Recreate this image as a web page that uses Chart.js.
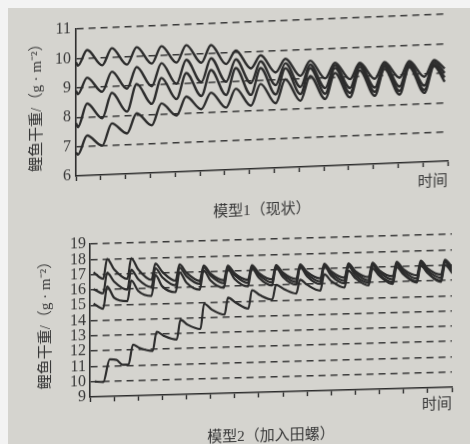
<!DOCTYPE html>
<html>
<head>
<meta charset="utf-8">
<script src="https://cdn.jsdelivr.net/npm/chart.js@4.4.0/dist/chart.umd.min.js"></script>
<style>
html, body { margin: 0; padding: 0; width: 470px; height: 444px; overflow: hidden; background: #f3f3f3; }
#paper { position: absolute; left: 8px; top: 8px; width: 462px; height: 436px; background: #d5d4cf; }
canvas { position: absolute; left: 0; }
#model1 { top: 0; transform: skewY(-2.3deg); transform-origin: 76px 176px; }
#model2 { top: 222px; transform: skewY(-1.55deg); transform-origin: 90px 175px; }
</style>
</head>
<body>
<div id="paper"></div>
<canvas id="model1" width="470" height="232"></canvas>
<canvas id="model2" width="470" height="232"></canvas>
<script>
// model 1 (现状): start, then trough / peak per cycle, then end
const m1X = [0, 0.08, 0.45, 1.06, 1.45, 2.06, 2.45, 3.06, 3.45, 4.06, 4.45, 5.06, 5.45, 6.06, 6.45, 7.06, 7.45,
  8.06, 8.45, 9.06, 9.45, 10.06, 10.45, 11.06, 11.45, 12.06, 12.45, 13.06, 13.45, 14.06, 14.45, 14.88];
const m1A = [9.87, 9.75, 10.27, 9.73, 10.3, 9.72, 10.3, 9.72, 10.3, 9.72, 10.3, 9.68, 10.27, 9.6, 10.05, 9.42, 9.85,
  9.25, 9.7, 9.1, 9.6, 8.98, 9.5, 8.92, 9.46, 8.9, 9.45, 8.9, 9.45, 8.9, 9.45, 9.15];
const m1B = [8.9, 8.78, 9.33, 8.83, 9.5, 8.9, 9.62, 8.95, 9.72, 9.0, 9.8, 9.02, 9.82, 9.0, 9.75, 8.92, 9.65,
  8.82, 9.55, 8.72, 9.47, 8.65, 9.42, 8.62, 9.4, 8.6, 9.38, 8.6, 9.38, 8.6, 9.38, 9.0];
const m1C = [7.8, 7.66, 8.45, 7.93, 8.78, 8.12, 9.05, 8.35, 9.22, 8.48, 9.35, 8.55, 9.42, 8.55, 9.45, 8.52, 9.42,
  8.5, 9.38, 8.48, 9.35, 8.46, 9.32, 8.45, 9.32, 8.45, 9.3, 8.45, 9.3, 8.45, 9.3, 8.85];
const m1D = [6.8, 6.72, 7.36, 7.0, 7.74, 7.38, 8.05, 7.62, 8.35, 7.92, 8.55, 8.1, 8.65, 8.12, 8.75, 8.15, 8.88,
  8.2, 9.0, 8.25, 9.08, 8.28, 9.15, 8.3, 9.2, 8.32, 9.22, 8.33, 9.25, 8.35, 9.25, 8.7];
const m1Ticks = [6, 7, 8, 9, 10, 11];

// model 2 (加入田螺): start, then trough / spike / decay per cycle
const m2X = [0.15, 0.55, 0.71, 1.0, 1.55, 1.71, 2.0, 2.55, 2.71, 3.0, 3.55, 3.71, 4.0, 4.55, 4.71, 5.0,
  5.55, 5.71, 6.0, 6.55, 6.71, 7.0, 7.55, 7.71, 8.0, 8.55, 8.71, 9.0, 9.55, 9.71, 10.0, 10.55, 10.71, 11.0,
  11.55, 11.71, 12.0, 12.55, 12.71, 13.0, 13.55, 13.71, 14.0, 14.55, 14.71, 15.05];
const m2F = [17.15, 16.7, 18.0, 17.3, 16.65, 18.0, 17.25, 16.55, 17.6, 17.05, 16.45, 17.5, 16.95, 16.4, 17.4, 16.85,
  16.4, 17.35, 16.82, 16.38, 17.32, 16.8, 16.36, 17.3, 16.78, 16.35, 17.3, 16.78, 16.35, 17.3, 16.78, 16.35, 17.28, 16.76,
  16.35, 17.28, 16.76, 16.36, 17.3, 16.78, 16.37, 17.32, 16.8, 16.38, 17.35, 16.75];
const m2G = [16.05, 15.75, 17.1, 16.5, 15.95, 17.25, 16.62, 16.08, 17.3, 16.7, 16.15, 17.3, 16.72, 16.2, 17.28, 16.72,
  16.2, 17.25, 16.7, 16.18, 17.22, 16.68, 16.16, 17.2, 16.66, 16.15, 17.2, 16.65, 16.15, 17.2, 16.65, 16.15, 17.18, 16.64,
  16.14, 17.18, 16.64, 16.15, 17.2, 16.65, 16.16, 17.22, 16.66, 16.17, 17.25, 16.6];
const m2H = [15.1, 14.75, 16.2, 15.45, 15.2, 16.55, 15.85, 15.5, 16.85, 16.1, 15.7, 17.0, 16.3, 15.82, 17.08, 16.4,
  15.9, 17.12, 16.45, 15.95, 17.15, 16.5, 15.97, 17.15, 16.5, 15.98, 17.15, 16.5, 15.98, 17.14, 16.5, 15.98, 17.13, 16.48,
  15.98, 17.12, 16.48, 15.98, 17.14, 16.5, 15.99, 17.16, 16.52, 16.0, 17.2, 16.5];
// the low-start curve climbs in steps, so it has its own x positions
const m2EX = [0.2, 0.55, 0.82, 1.1, 1.35, 1.6, 1.78, 2.05, 2.6, 2.76, 3.05, 3.6, 3.75, 4.05, 4.58, 4.73, 5.05, 5.58,
  5.72, 6.05, 6.57, 6.71, 7.05, 7.56, 7.71, 8.05, 8.55, 8.71, 9.0, 9.55, 9.71, 10.0, 10.55, 10.71, 11.0, 11.55,
  11.71, 12.0, 12.55, 12.71, 13.0, 13.55, 13.71, 14.0, 14.55, 14.71, 15.05];
const m2E = [10.0, 9.95, 11.42, 11.38, 11.05, 11.05, 12.35, 12.12, 11.9, 13.15, 12.88, 12.6, 13.9, 13.55, 13.25, 14.9, 14.5, 14.15,
  15.25, 14.9, 14.5, 15.7, 15.35, 15.05, 16.0, 15.7, 15.4, 16.3, 15.95, 15.55, 16.6, 16.15, 15.7, 16.8, 16.3, 15.8,
  16.9, 16.4, 15.85, 16.95, 16.45, 15.9, 17.0, 16.5, 15.9, 17.0, 16.4];
const m2Ticks = [9, 10, 11, 12, 13, 14, 15, 16, 17, 18, 19];

const ink = '#2c2c2c';
const textInk = '#363636';
const serif = '"Liberation Serif", "DejaVu Serif", serif';
const cjk = '"Liberation Serif", "Noto Sans CJK SC", sans-serif';

const makeChart = (id, cfg) => {
  const ctx = document.getElementById(id).getContext('2d');
  const yMin = cfg.ticks[0];
  const yMax = cfg.ticks[cfg.ticks.length - 1];
  return new Chart(ctx, {
    type: 'line',
    data: {
      datasets: cfg.series.map(s => ({
        data: s.x.map((x, i) => ({ x: x, y: s.y[i] })),
        borderColor: ink,
        borderWidth: cfg.lineWidth,
        pointRadius: 0,
        fill: false,
        cubicInterpolationMode: 'monotone'
      }))
    },
    options: {
      responsive: false,
      animation: false,
      devicePixelRatio: 1,
      layout: { padding: cfg.padding },
      plugins: {
        legend: { display: false },
        tooltip: { enabled: false },
        title: {
          display: true,
          position: 'bottom',
          fullSize: false,
          text: cfg.caption,
          color: textInk,
          font: { family: cjk, size: 15, weight: 'normal', lineHeight: 1 },
          padding: { top: cfg.captionGap, bottom: 0 }
        }
      },
      scales: {
        x: {
          type: 'linear',
          min: 0,
          max: 15,
          afterFit: scale => { scale.height = 30; },
          ticks: { display: false, stepSize: 1 },
          grid: {
            drawOnChartArea: false,
            drawTicks: true,
            tickLength: 5,
            tickColor: ink,
            tickWidth: 1.4
          },
          border: { display: true, color: ink, width: 1.6 },
          title: {
            display: true,
            text: '时间',
            align: 'end',
            color: textInk,
            font: { family: cjk, size: 15, lineHeight: 1 },
            padding: { top: 0, bottom: cfg.timeGap }
          }
        },
        y: {
          min: yMin,
          max: yMax,
          afterFit: scale => { scale.width = cfg.yWidth; },
          ticks: {
            stepSize: 1,
            autoSkip: false,
            padding: cfg.tickPad,
            color: textInk,
            font: { family: serif, size: 16, lineHeight: 1 }
          },
          grid: {
            drawTicks: false,
            lineWidth: 1.4,
            color: c => (c.tick && c.tick.value === yMin) ? 'rgba(0,0,0,0)' : '#383838'
          },
          border: { display: true, color: ink, width: 1.6, dash: [7, 5] },
          title: {
            display: true,
            text: '鲤鱼干重/（g · m⁻²）',
            color: textInk,
            font: { family: cjk, size: 15, lineHeight: 1.2 },
            padding: 0
          }
        }
      }
    }
  });
};

makeChart('model1', {
  series: [
    { x: m1X, y: m1A },
    { x: m1X, y: m1B },
    { x: m1X, y: m1C },
    { x: m1X, y: m1D }
  ],
  ticks: m1Ticks,
  caption: '模型1（现状）',
  padding: { left: 28, right: 22, top: 29, bottom: 6.1 },
  yWidth: 48,
  tickPad: 5,
  captionGap: 4.9,
  timeGap: 2.5,
  lineWidth: 2.4
});

makeChart('model2', {
  series: [
    { x: m2X, y: m2F },
    { x: m2X, y: m2G },
    { x: m2X, y: m2H },
    { x: m2EX, y: m2E }
  ],
  ticks: m2Ticks,
  caption: '模型2（加入田螺）',
  padding: { left: 37, right: 18, top: 22, bottom: 5.7 },
  yWidth: 53,
  tickPad: 4,
  captionGap: 6.3,
  timeGap: 5.5,
  lineWidth: 2.2
});
</script>
</body>
</html>
